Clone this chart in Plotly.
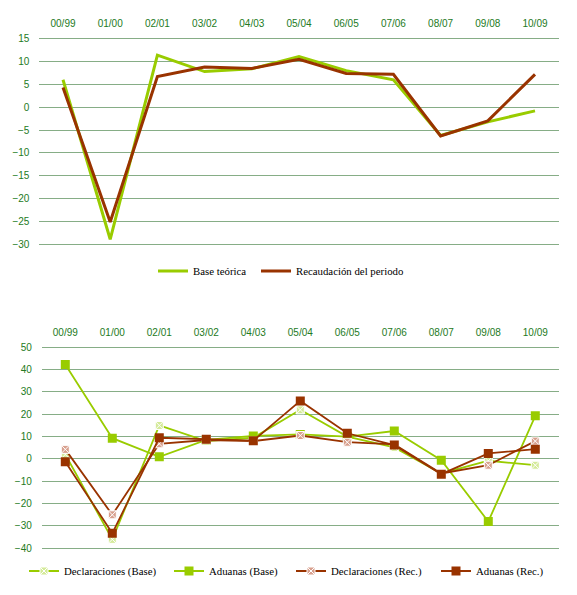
import plotly.graph_objects as go

categories = ["00/99", "01/00", "02/01", "03/02", "04/03", "05/04",
              "06/05", "07/06", "08/07", "09/08", "10/09"]

# Top chart
base_teorica = [6.0, -28.9, 11.4, 7.8, 8.4, 11.1, 8.0, 6.0, -6.2, -3.2, -0.8]
recaudacion = [4.3, -25.1, 6.7, 8.8, 8.5, 10.5, 7.4, 7.2, -6.3, -3.0, 7.2]

# Bottom chart
decl_base = [2.0, -36.0, 15.0, 8.0, 9.5, 22.0, 10.0, 5.2, -6.5, -0.8, -2.8]
adu_base = [42.3, 9.3, 1.0, 8.5, 10.3, 11.0, 10.0, 12.5, -0.6, -28.0, 19.3]
decl_rec = [4.3, -25.0, 6.8, 8.5, 8.0, 10.5, 7.5, 6.5, -6.5, -2.8, 8.0]
adu_rec = [-1.2, -33.3, 9.5, 8.8, 8.2, 26.0, 11.5, 6.2, -6.8, 2.5, 4.4]

top_ticks = [15, 10, 5, 0, -5, -10, -15, -20, -25, -30]
bottom_ticks = [50, 40, 30, 20, 10, 0, -10, -20, -30, -40]

GREEN = "#99CC00"
BROWN = "#993300"
TICK = "#237a23"
GRID = "#86ad86"
W, H = 577, 595

fig = go.Figure()

fig.add_trace(go.Scatter(x=categories, y=base_teorica, name="Base teórica",
                         mode="lines", line=dict(color=GREEN, width=3),
                         xaxis="x", yaxis="y", legend="legend"))
fig.add_trace(go.Scatter(x=categories, y=recaudacion, name="Recaudación del periodo",
                         mode="lines", line=dict(color=BROWN, width=3),
                         xaxis="x", yaxis="y", legend="legend2"))

fig.add_trace(go.Scatter(x=categories, y=decl_base, name="Declaraciones (Base)",
                         mode="lines+markers", line=dict(color=GREEN, width=1.8),
                         marker=dict(symbol="square-x", size=8, color="#d4ea99",
                                     line=dict(color="white", width=1)),
                         xaxis="x2", yaxis="y2", legend="legend3"))
fig.add_trace(go.Scatter(x=categories, y=adu_base, name="Aduanas (Base)",
                         mode="lines+markers", line=dict(color=GREEN, width=1.8),
                         marker=dict(symbol="square", size=9, color=GREEN),
                         xaxis="x2", yaxis="y2", legend="legend4"))
fig.add_trace(go.Scatter(x=categories, y=decl_rec, name="Declaraciones (Rec.)",
                         mode="lines+markers", line=dict(color=BROWN, width=1.8),
                         marker=dict(symbol="square-x", size=8, color="#d8a08e",
                                     line=dict(color="white", width=1)),
                         xaxis="x2", yaxis="y2", legend="legend5"))
fig.add_trace(go.Scatter(x=categories, y=adu_rec, name="Aduanas (Rec.)",
                         mode="lines+markers", line=dict(color=BROWN, width=1.8),
                         marker=dict(symbol="square", size=9, color=BROWN),
                         xaxis="x2", yaxis="y2", legend="legend6"))


def px_x(p):
    return p / W


def px_y(p):
    return 1 - p / H


tickfont = dict(family="Liberation Sans", size=10, color=TICK)
xcommon = dict(type="category", side="top", range=[-0.5, 10.5], showgrid=False,
               zeroline=False, showline=False, ticks="", tickfont=tickfont,
               ticklabelstandoff=7, fixedrange=True, automargin=False)
ycommon = dict(showgrid=True, gridcolor=GRID, gridwidth=1, zeroline=False,
               showline=False, ticks="", tickfont=tickfont, ticklabelstandoff=9,
               automargin=False)

legfont = dict(family="Liberation Serif", size=10.8, color="black")


def leg(xp, yp):
    return dict(x=px_x(xp), y=px_y(yp), xanchor="left", yanchor="middle",
                orientation="h", font=legfont, bgcolor="rgba(0,0,0,0)",
                itemwidth=30, tracegroupgap=0)


fig.update_layout(
    width=W, height=H,
    margin=dict(l=0, r=0, t=0, b=0),
    paper_bgcolor="white", plot_bgcolor="white",
    xaxis=dict(domain=[px_x(39.4), px_x(558.6)], anchor="y", **xcommon),
    yaxis=dict(domain=[px_y(245.7), px_y(37.3)], anchor="x", range=[-30.3, 15.3],
               tickvals=top_ticks, **ycommon),
    xaxis2=dict(domain=[px_x(41.8), px_x(558.8)], anchor="y2", **xcommon),
    yaxis2=dict(domain=[px_y(549.4), px_y(346.2)], anchor="x2", range=[-40.5, 50.5],
                tickvals=bottom_ticks, **ycommon),
    legend=leg(153, 271),
    legend2=leg(256, 271),
    legend3=leg(24, 571),
    legend4=leg(169, 571),
    legend5=leg(291, 571),
    legend6=leg(436, 571),
    showlegend=True,
)

fig.write_html("out.html", config={"displayModeBar": False},
               post_script="document.body.style.margin='0';")
